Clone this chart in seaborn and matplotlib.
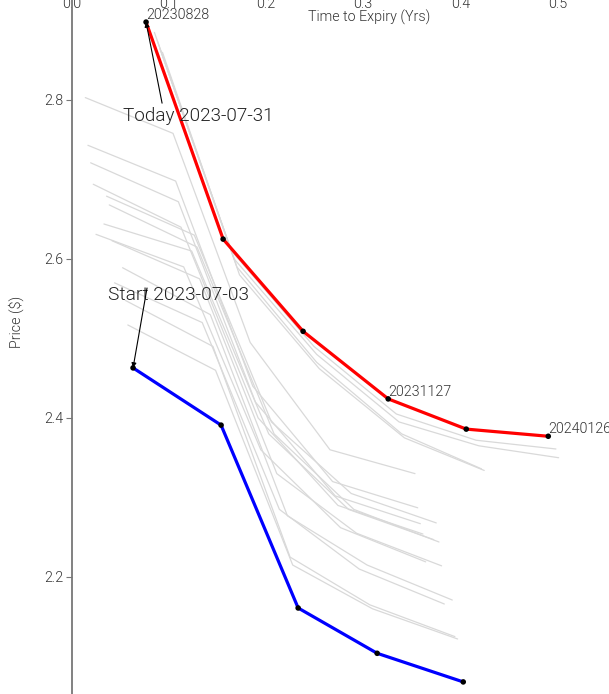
import pandas as pd
import seaborn as sns
import matplotlib.pyplot as plt

# curve on the start date
start_label = 'Start 2023-07-03'
start_t = [0.0629, 0.1536, 0.2330, 0.3144, 0.4031]
start_p = [2.463, 2.391, 2.161, 2.104, 2.068]

# curve on today
today_label = 'Today 2023-07-31'
today_t = [0.0763, 0.1557, 0.2381, 0.3258, 0.4062, 0.4907]
today_p = [2.898, 2.625, 2.509, 2.424, 2.386, 2.377]
today_expiry = ['20230828', '', '', '20231127', '', '20240126']

# curves of the days in between
grey_days = ['2023-07-05', '2023-07-06', '2023-07-07', '2023-07-10', '2023-07-11',
             '2023-07-12', '2023-07-13', '2023-07-14', '2023-07-17', '2023-07-18',
             '2023-07-19', '2023-07-20', '2023-07-21', '2023-07-25', '2023-07-26',
             '2023-07-27', '2023-07-28']
grey_t = [
    [0.0575, 0.1479, 0.2274, 0.3096, 0.3973],
    [0.0548, 0.1452, 0.2247, 0.3068, 0.3945],
    [0.0521, 0.1425, 0.2219, 0.3041, 0.3918],
    [0.0438, 0.1342, 0.2137, 0.2959, 0.3836],
    [0.0411, 0.1315, 0.2110, 0.2932, 0.3808],
    [0.0384, 0.1288, 0.2082, 0.2904, 0.3781],
    [0.0356, 0.1260, 0.2055, 0.2877, 0.3753],
    [0.0329, 0.1233, 0.2027, 0.2849, 0.3726],
    [0.0247, 0.1151, 0.1945, 0.2767, 0.3644],
    [0.0219, 0.1123, 0.1918, 0.2740, 0.3616],
    [0.0192, 0.1096, 0.1890, 0.2712, 0.3589],
    [0.0164, 0.1068, 0.1863, 0.2685, 0.3562],
    [0.0137, 0.1041, 0.1836, 0.2658, 0.3534],
    [0.0932, 0.1726, 0.2548, 0.3425, 0.4247],
    [0.0904, 0.1699, 0.2521, 0.3397, 0.4219],
    [0.0877, 0.1671, 0.2521, 0.3370, 0.4192, 0.5014],
    [0.0849, 0.1644, 0.2493, 0.3342, 0.4164, 0.4986],
]
grey_p = [
    [2.517, 2.460, 2.215, 2.160, 2.122],
    [2.548, 2.490, 2.225, 2.165, 2.125],
    [2.589, 2.530, 2.277, 2.215, 2.171],
    [2.570, 2.520, 2.285, 2.210, 2.166],
    [2.623, 2.575, 2.330, 2.255, 2.214],
    [2.668, 2.615, 2.380, 2.285, 2.244],
    [2.679, 2.630, 2.395, 2.305, 2.268],
    [2.644, 2.610, 2.380, 2.285, 2.247],
    [2.631, 2.590, 2.360, 2.262, 2.219],
    [2.694, 2.640, 2.400, 2.290, 2.254],
    [2.721, 2.672, 2.420, 2.302, 2.267],
    [2.743, 2.698, 2.440, 2.320, 2.287],
    [2.803, 2.758, 2.495, 2.360, 2.330],
    [2.860, 2.580, 2.462, 2.375, 2.334],
    [2.865, 2.590, 2.470, 2.380, 2.336],
    [2.875, 2.600, 2.480, 2.395, 2.365, 2.350],
    [2.885, 2.610, 2.490, 2.405, 2.372, 2.361],
]

y_ticks = [2.2, 2.4, 2.6, 2.8]
x_ticks = [0.0, 0.1, 0.2, 0.3, 0.4, 0.5, 0.6]

sns.set_theme(style='white')
plt.rcParams['font.family'] = ['Roboto', 'DejaVu Sans']
plt.rcParams['font.weight'] = 300   # Roboto Light
plt.rcParams['axes.labelweight'] = 300

rows = []
for day, ts, ps in zip(grey_days, grey_t, grey_p):
    for t, p in zip(ts, ps):
        rows.append({'day': day, 't': t, 'p': p})
grey_df = pd.DataFrame(rows)

fig = plt.figure(figsize=(6.09, 6.94), dpi=100)
ax = fig.add_axes([72 / 609, 0.0, 594 / 609, 705 / 694])

sns.lineplot(data=grey_df, x='t', y='p', units='day', estimator=None, sort=False,
             color='#d9d9d9', lw=0.9, ax=ax, zorder=1)
sns.lineplot(x=today_t, y=today_p, color='red', lw=2.3, sort=False, ax=ax, zorder=3)
sns.lineplot(x=start_t, y=start_p, color='blue', lw=2.3, sort=False, ax=ax, zorder=3)
sns.scatterplot(x=today_t + start_t, y=today_p + start_p, color='black', s=16,
                edgecolor='none', ax=ax, zorder=4)

for t, p, lab in zip(today_t, today_p, today_expiry):
    if lab:
        ax.text(t, p, lab, ha='left', va='bottom', fontsize=10.3, color='#333333')

# labels with arrows to the first point of each curve
ax.text(0.0526, 2.780, today_label, ha='left', va='center', fontsize=13.6, color='#222222')
ax.annotate('', xy=(today_t[0], today_p[0]), xytext=(0.0928, 2.796),
            arrowprops=dict(arrowstyle='-|>', color='black', lw=0.8, mutation_scale=7,
                            shrinkA=0, shrinkB=0))
ax.text(0.0371, 2.555, start_label, ha='left', va='center', fontsize=13.8, color='#222222')
ax.annotate('', xy=(start_t[0], start_p[0]), xytext=(0.0773, 2.5635),
            arrowprops=dict(arrowstyle='-|>', color='black', lw=0.8, mutation_scale=7,
                            shrinkA=0, shrinkB=0))

ax.set_xlim(0, 0.612)
ax.set_ylim(2.0528, 2.9396)
ax.set_xticks(x_ticks)
ax.set_yticks(y_ticks)
ax.xaxis.set_major_formatter(plt.FormatStrFormatter('%.1f'))
ax.yaxis.set_major_formatter(plt.FormatStrFormatter('%.1f'))

for side in ['top', 'right']:
    ax.spines[side].set_visible(False)
ax.spines['bottom'].set_position(('axes', 1.0))
ax.spines['bottom'].set_visible(False)
ax.spines['left'].set_color('#777777')
ax.spines['left'].set_linewidth(1.3)

ax.tick_params(axis='x', length=0, pad=6, labelsize=10.3, labelcolor='#333333')
ax.tick_params(axis='y', length=4, width=0.8, color='#777777', pad=2,
               labelsize=10.3, labelcolor='#333333', left=True)

ax.set_xlabel('Time to Expiry (Yrs)', fontsize=10.3, color='#333333')
ax.xaxis.set_label_coords(0.5, 0.970)
ax.set_ylabel('Price ($)', fontsize=10.3, color='#333333')
ax.yaxis.set_label_coords(-0.080, 0.5277)

fig.savefig('out.png', dpi=100)
